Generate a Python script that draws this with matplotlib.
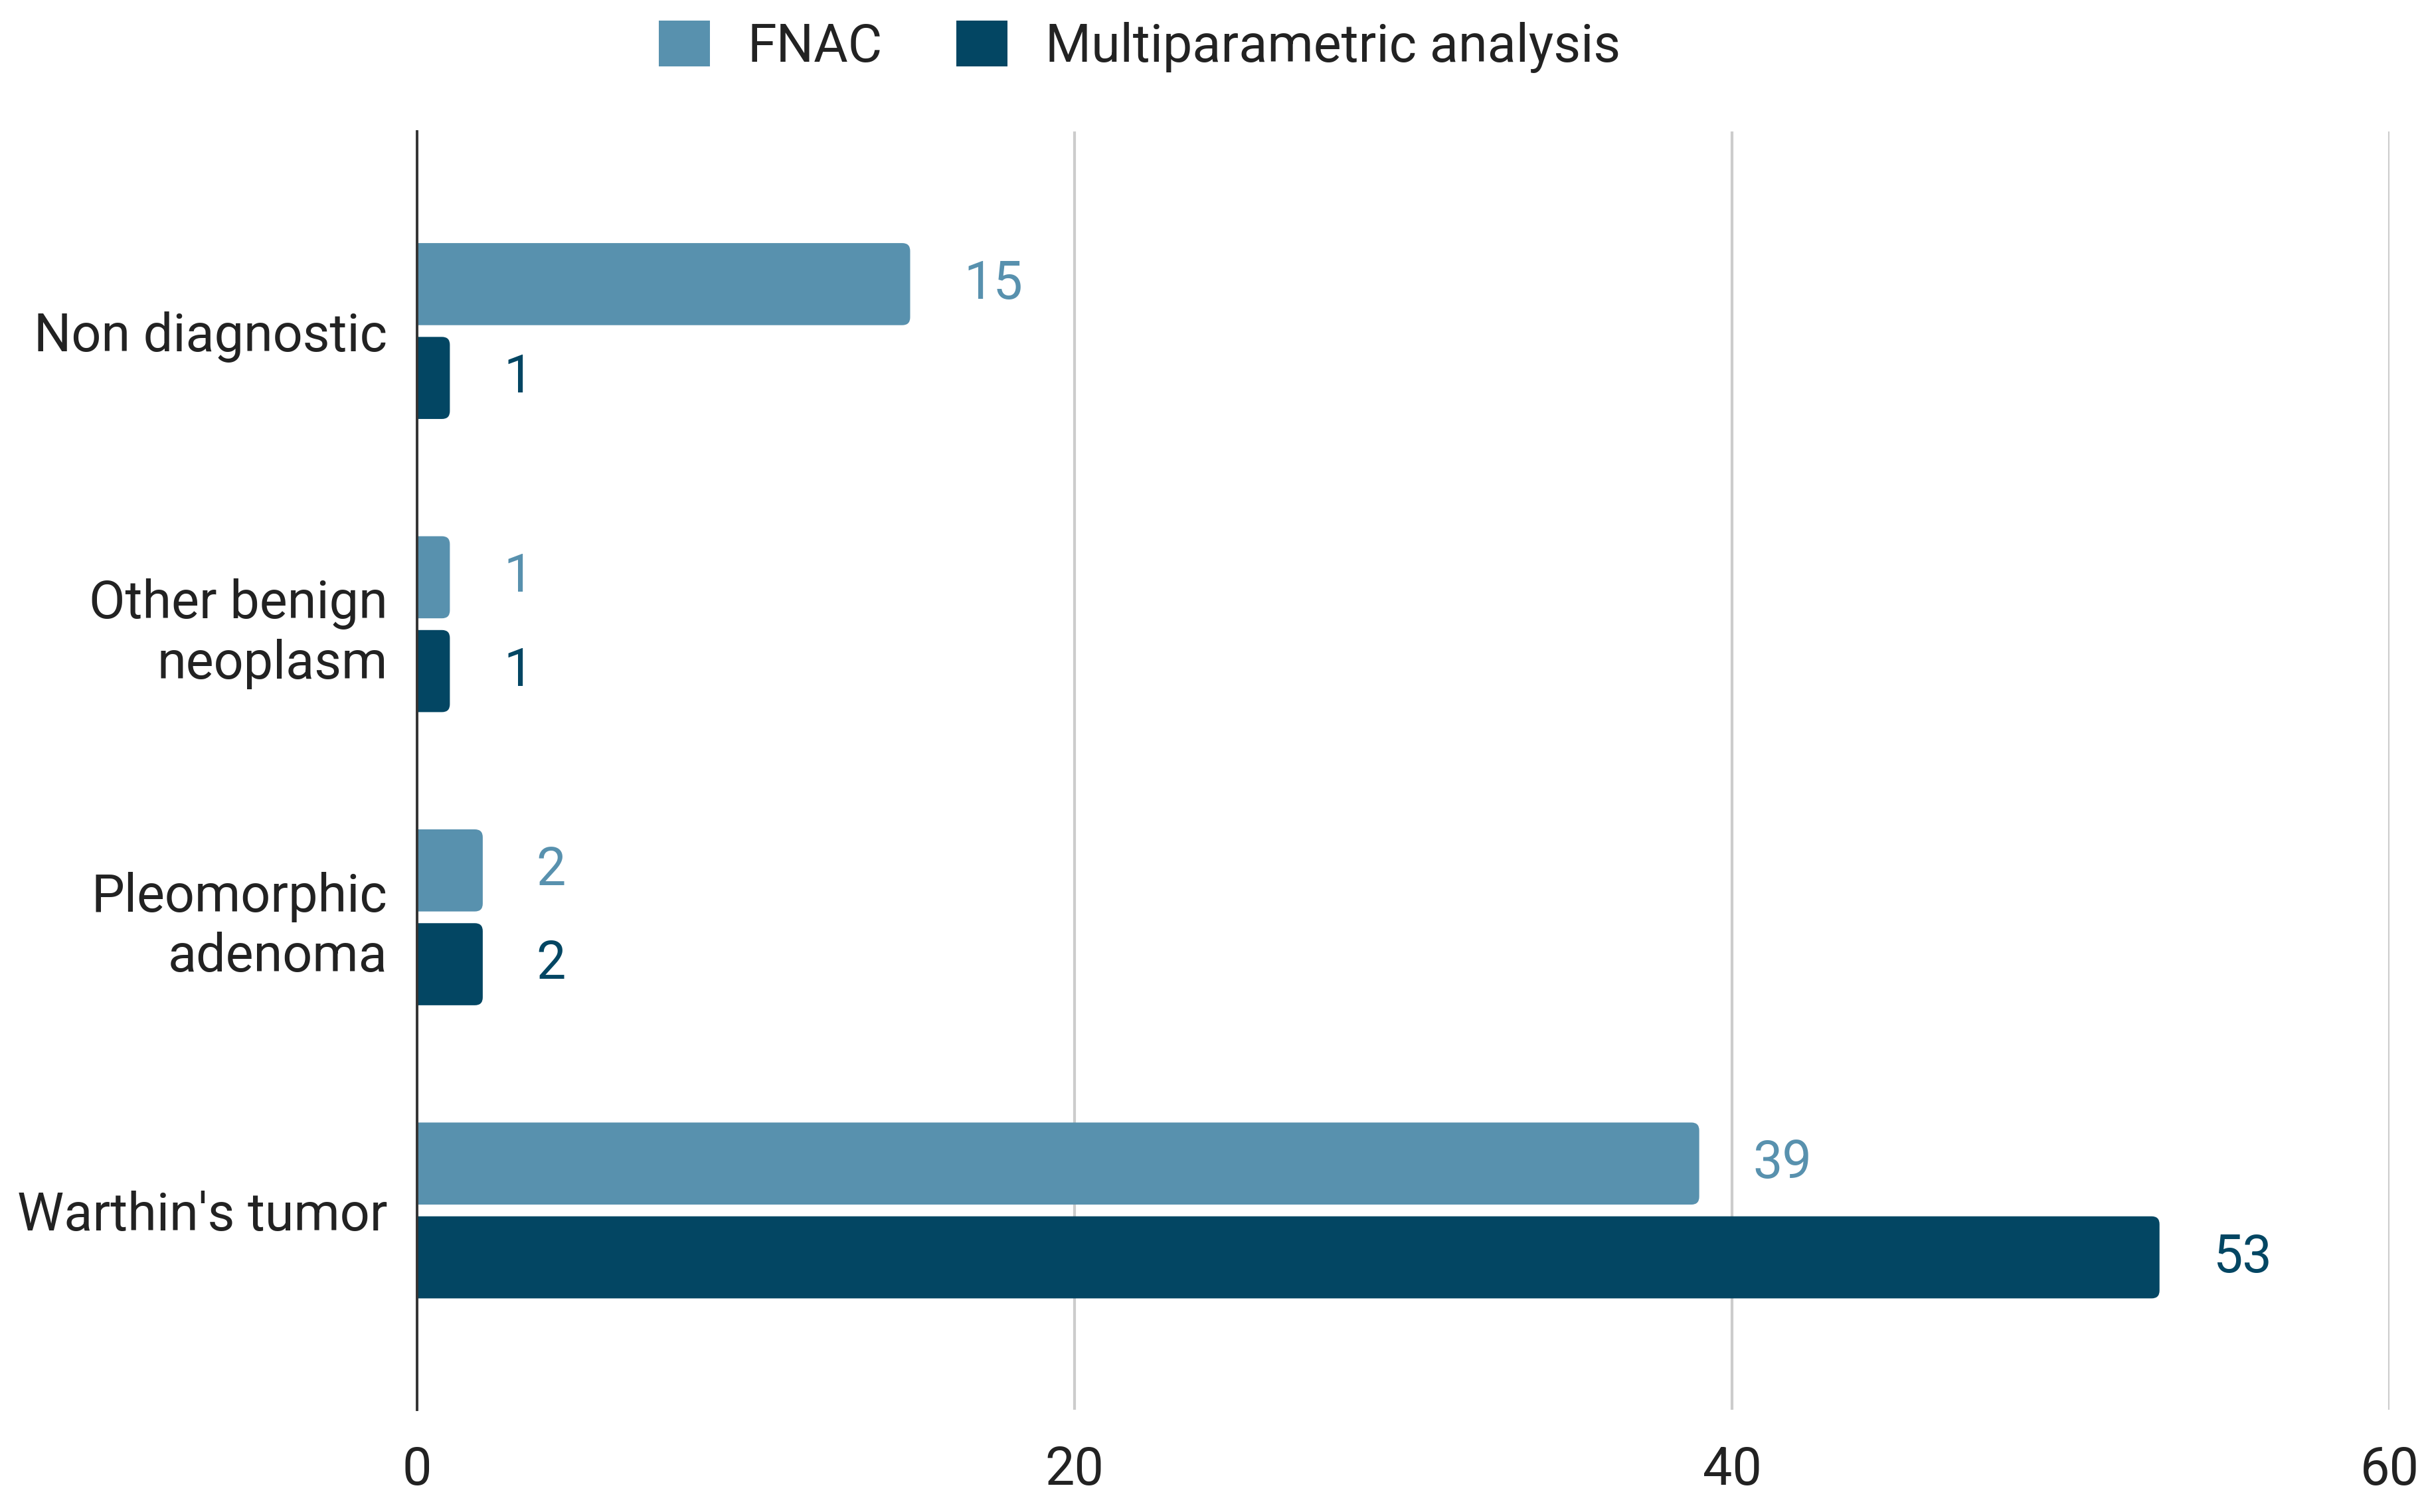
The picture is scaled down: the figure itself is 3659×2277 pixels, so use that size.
import matplotlib
matplotlib.use("Agg")
import matplotlib.pyplot as plt
from matplotlib.patches import Patch, FancyBboxPatch
import numpy as np

categories = ["Non diagnostic", "Other benign\nneoplasm", "Pleomorphic\nadenoma", "Warthin's tumor"]
series_names = ["FNAC", "Multiparametric analysis"]
fnac = [15, 1, 2, 39]
multi = [1, 1, 2, 53]
x_ticks = [0, 20, 40, 60]

c_fnac = "#5891ae"
c_multi = "#034663"

plt.rcParams['font.family'] = ['Roboto', 'DejaVu Sans']
FS = 57

fig = plt.figure(figsize=(36.59, 22.77), dpi=100)
ax = fig.add_axes([0.1716, 0.0676, 0.9834 - 0.1716, 0.9129 - 0.0676])

y = np.arange(len(categories))
h = 0.28
off = 0.16
b1 = ax.barh(y - off, fnac, height=h, color=c_fnac, zorder=3)
b2 = ax.barh(y + off, multi, height=h, color=c_multi, zorder=3)

ax.set_xlim(0, 60)
ax.set_ylim(3.68, -0.68)

# rounded right corners (left side extends past the clipped axis edge)
rx = 0.24
ry = 0.027
for bars, col in [(b1, c_fnac), (b2, c_multi)]:
    for bar in bars:
        bar.set_visible(False)
        x0 = -1.0
        w = bar.get_width() - x0
        p = FancyBboxPatch((x0, bar.get_y()), w, bar.get_height(),
                           boxstyle=f"round,pad=0,rounding_size={rx}",
                           mutation_aspect=ry / rx,
                           facecolor=col, edgecolor="none", zorder=3)
        ax.add_patch(p)

for bars, vals, col in [(b1, fnac, c_fnac), (b2, multi, c_multi)]:
    for bar, v in zip(bars, vals):
        ax.annotate(str(v), xy=(bar.get_width(), bar.get_y() + bar.get_height() / 2),
                    xytext=(58, 0), textcoords="offset points",
                    va="center", ha="left", fontsize=FS, color=col)

ax.set_xticks(x_ticks)
ax.set_xticklabels([str(t) for t in x_ticks])
ax.set_yticks(y)
ax.set_yticklabels(categories, linespacing=1.22)
ax.tick_params(axis="x", length=0, pad=38, labelsize=FS, labelcolor="#222222")
ax.tick_params(axis="y", length=0, pad=32, labelsize=FS, labelcolor="#222222")
for lab in ax.get_yticklabels():
    lab.set_horizontalalignment("right")
    lab.set_multialignment("right")

ax.grid(axis="x", color="#cccccc", linewidth=3, zorder=0)
ax.grid(axis="y", visible=False)
for s in ["top", "right", "bottom"]:
    ax.spines[s].set_visible(False)
ax.spines["left"].set_color("#333333")
ax.spines["left"].set_linewidth(2.8)
ax.spines["left"].set_zorder(4)

handles = [Patch(facecolor=c_fnac, edgecolor="none"), Patch(facecolor=c_multi, edgecolor="none")]
fig.legend(handles, series_names, loc="center", bbox_to_anchor=(0.469, 0.969), ncol=2,
           frameon=False, fontsize=FS, handlelength=0.97, handleheight=0.97,
           handletextpad=0.72, columnspacing=1.4, borderpad=0, labelcolor="#222222")

fig.savefig("out.png", dpi=100)
